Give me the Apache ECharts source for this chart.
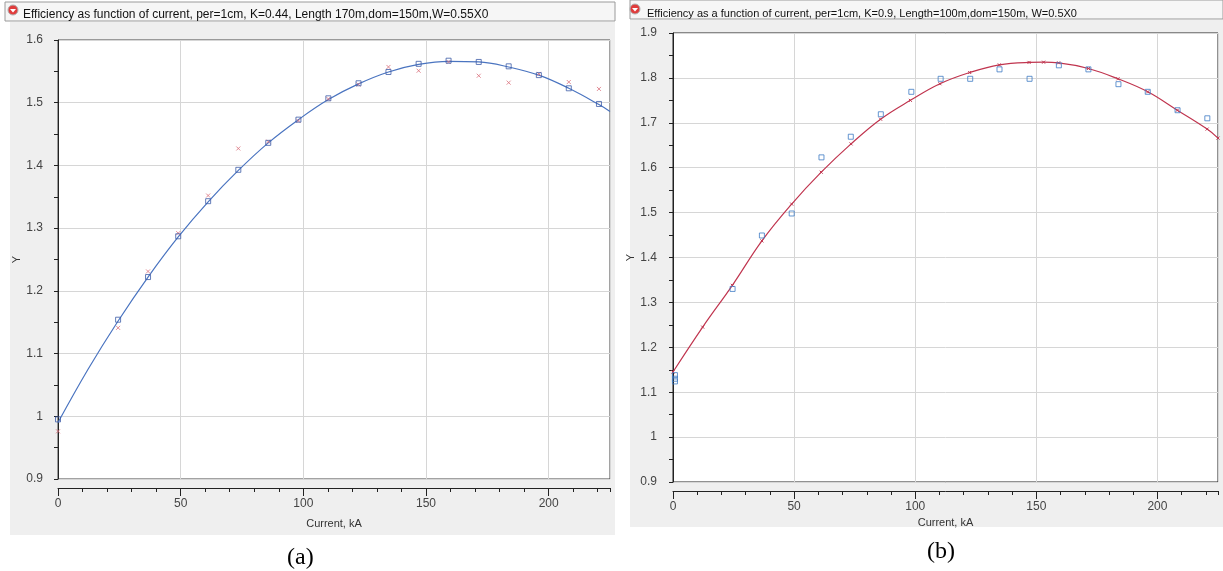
<!DOCTYPE html>
<html>
<head>
<meta charset="utf-8">
<script src="https://cdn.jsdelivr.net/npm/echarts@6/dist/echarts.min.js"></script>
<style>
html,body{margin:0;padding:0;background:#fff;}
#main{width:1223px;height:571px;}
</style>
</head>
<body>
<div id="main"></div>
<script>
// panel (a)
var xA = [0, 24.5, 36.7, 49, 61.2, 73.5, 85.7, 98, 110.2, 122.5, 134.7, 147, 159.2, 171.5, 183.7, 196, 208.2, 220.5];
var blueA = [0.995, 1.154, 1.222, 1.287, 1.343, 1.393, 1.436, 1.473, 1.507, 1.531, 1.549, 1.562, 1.567, 1.565, 1.558, 1.544, 1.523, 1.498];
var redA = [0.976, 1.141, 1.231, 1.292, 1.352, 1.427, 1.438, 1.471, 1.506, 1.529, 1.557, 1.551, 1.565, 1.543, 1.532, 1.546, 1.533, 1.522];
var fitXA = [0, 12.25, 24.5, 36.7, 49, 61.2, 73.5, 85.7, 98, 110.2, 122.5, 134.7, 147, 159.2, 171.5, 183.7, 196, 208.2, 220.5, 225];
var fitA = [0.99, 1.075, 1.152, 1.222, 1.286, 1.342, 1.392, 1.436, 1.473, 1.505, 1.53, 1.549, 1.561, 1.566, 1.565, 1.557, 1.544, 1.523, 1.497, 1.486];

// panel (b)
var xB = [0.8, 0.8, 0.8, 24.6, 36.7, 49, 61.3, 73.4, 85.8, 98.4, 110.5, 122.7, 134.8, 147.2, 159.3, 171.5, 183.9, 196, 208.3, 220.6];
var blueB = [1.138, 1.130, 1.124, 1.330, 1.449, 1.498, 1.623, 1.669, 1.719, 1.769, 1.798, 1.798, 1.819, 1.798, 1.828, 1.819, 1.786, 1.769, 1.728, 1.710];
var fitXB = [0, 12.25, 24.5, 36.7, 49, 61.2, 73.5, 85.7, 98, 110.2, 122.5, 134.7, 147, 153, 159.2, 171.5, 183.7, 196, 208.2, 220.5, 225];
var fitB = [1.145, 1.245, 1.338, 1.437, 1.519, 1.590, 1.653, 1.708, 1.750, 1.787, 1.812, 1.829, 1.8345, 1.835, 1.8335, 1.821, 1.798, 1.769, 1.728, 1.686, 1.666];

var titleA = 'Efficiency as function of current, per=1cm, K=0.44, Length 170m,dom=150m,W=0.55X0';
var titleB = 'Efficiency as a function of current, per=1cm, K=0.9, Length=100m,dom=150m, W=0.5X0';

function pairs(xs, ys) {
    var out = [];
    for (var i = 0; i < xs.length; i++) out.push([xs[i], ys[i]]);
    return out;
}

var FONT = '"Liberation Sans", Arial, sans-serif';
var crossPath = 'path://M0,0L10,10M10,0L0,10';

function tickAxis(gi) {
    return {
        type: 'value', gridIndex: gi, min: 0, max: 225, interval: 10,
        position: 'bottom', offset: 9,
        axisLine: {lineStyle: {color: '#222', width: 1}},
        axisTick: {length: 4, lineStyle: {color: '#222'}},
        axisLabel: {show: false},
        splitLine: {show: false}
    };
}
function labelAxis(gi, gap) {
    return {
        type: 'value', gridIndex: gi, min: 0, max: 225, interval: 50,
        position: 'bottom', offset: 9,
        name: 'Current, kA', nameLocation: 'middle', nameGap: gap,
        nameTextStyle: {color: '#333', fontSize: 11, fontFamily: FONT},
        axisLine: {show: false},
        axisTick: {length: 8, lineStyle: {color: '#222'}},
        axisLabel: {margin: 10, color: '#444', fontSize: 12, fontFamily: FONT, showMaxLabel: false},
        splitLine: {show: true, lineStyle: {color: '#d6d6d6', width: 1}}
    };
}
function yAxisOf(gi, max, off, gap) {
    return {
        type: 'value', gridIndex: gi, min: 0.9, max: max, interval: 0.1,
        offset: off,
        name: 'Y', nameLocation: 'middle', nameGap: gap,
        nameTextStyle: {color: '#333', fontSize: 11, fontFamily: FONT},
        axisLine: {show: true, lineStyle: {color: '#222', width: 1}},
        axisTick: {show: true, length: 4, lineStyle: {color: '#222'}},
        minorTick: {show: true, splitNumber: 2, length: 4, lineStyle: {color: '#222'}},
        axisLabel: {margin: 7, color: '#444', fontSize: 12, fontFamily: FONT},
        splitLine: {show: true, lineStyle: {color: '#d6d6d6', width: 1}}
    };
}

var chart = echarts.init(document.getElementById('main'));
var option = {
    backgroundColor: '#fff',
    animation: false,
    title: [
        {text: titleA, left: 18, top: 4,
         textStyle: {fontSize: 12, fontWeight: 'normal', color: '#111', fontFamily: FONT}},
        {text: titleB, left: 642, top: 3,
         textStyle: {fontSize: 11, fontWeight: 'normal', color: '#111', fontFamily: FONT}},
        {text: '(a)', left: 282, top: 541,
         textStyle: {fontSize: 24, fontWeight: 'normal', color: '#000', fontFamily: '"Liberation Serif", serif'}},
        {text: '(b)', left: 922, top: 535,
         textStyle: {fontSize: 24, fontWeight: 'normal', color: '#000', fontFamily: '"Liberation Serif", serif'}}
    ],
    graphic: {
        elements: [
            // panel backgrounds
            {type: 'rect', z: -10, shape: {x: 10, y: 22, width: 605, height: 513}, style: {fill: '#efefef'}},
            {type: 'rect', z: -10, shape: {x: 630, y: 20, width: 593, height: 507}, style: {fill: '#efefef'}},
            // title bars
            {type: 'rect', z: -9, shape: {x: 5, y: 2, width: 610, height: 19}, style: {fill: '#f6f6f6', stroke: '#9a9a9a', lineWidth: 1}},
            {type: 'rect', z: -9, shape: {x: 630, y: 0, width: 593, height: 19}, style: {fill: '#f6f6f6', stroke: '#9a9a9a', lineWidth: 1}},
            // red collapse icons
            {type: 'circle', z: 5, shape: {cx: 13, cy: 10, r: 5}, style: {fill: '#e03c3c', stroke: '#b0b0b0', lineWidth: 1}},
            {type: 'polygon', z: 6, shape: {points: [[10, 9], [16, 9], [13, 12.5]]}, style: {fill: '#fff'}},
            {type: 'circle', z: 5, shape: {cx: 635, cy: 9, r: 5}, style: {fill: '#e03c3c', stroke: '#b0b0b0', lineWidth: 1}},
            {type: 'polygon', z: 6, shape: {points: [[632, 8], [638, 8], [635, 11.5]]}, style: {fill: '#fff'}}
        ]
    },
    grid: [
        {left: 58, top: 40, width: 552, height: 439, show: true, backgroundColor: '#fff', borderColor: '#444', borderWidth: 1},
        {left: 673, top: 33, width: 545, height: 449, show: true, backgroundColor: '#fff', borderColor: '#222', borderWidth: 1}
    ],
    xAxis: [tickAxis(0), labelAxis(0, 30), tickAxis(1), labelAxis(1, 26)],
    yAxis: [yAxisOf(0, 1.6, 8, 27), yAxisOf(1, 1.9, 9, 25)],
    series: [
        {
            name: 'fit a', type: 'line', xAxisIndex: 1, yAxisIndex: 0,
            data: pairs(fitXA, fitA), smooth: 0.4, showSymbol: false,
            lineStyle: {color: '#4a74c0', width: 1.2}, z: 3
        },
        {
            name: 'measured a', type: 'scatter', xAxisIndex: 1, yAxisIndex: 0,
            data: pairs(xA, redA), symbol: crossPath, symbolSize: 4,
            itemStyle: {color: 'rgba(0,0,0,0)', borderColor: '#d9707c', borderWidth: 1}, z: 4
        },
        {
            name: 'model a', type: 'scatter', xAxisIndex: 1, yAxisIndex: 0,
            data: pairs(xA, blueA), symbol: 'rect', symbolSize: 5,
            itemStyle: {color: 'rgba(255,255,255,0)', borderColor: '#3d5ca8', borderWidth: 1}, z: 5
        },
        {
            name: 'fit b', type: 'line', xAxisIndex: 3, yAxisIndex: 1,
            data: pairs(fitXB, fitB), smooth: 0.4, showSymbol: true,
            symbol: crossPath, symbolSize: 3,
            itemStyle: {color: 'rgba(0,0,0,0)', borderColor: '#c0354f', borderWidth: 1},
            lineStyle: {color: '#c0354f', width: 1.2}, z: 3
        },
        {
            name: 'model b', type: 'scatter', xAxisIndex: 3, yAxisIndex: 1,
            data: pairs(xB, blueB), symbol: 'rect', symbolSize: 5,
            itemStyle: {color: 'rgba(255,255,255,0)', borderColor: '#3f7cc4', borderWidth: 1}, z: 5
        }
    ]
};
chart.setOption(option);
</script>
</body>
</html>
